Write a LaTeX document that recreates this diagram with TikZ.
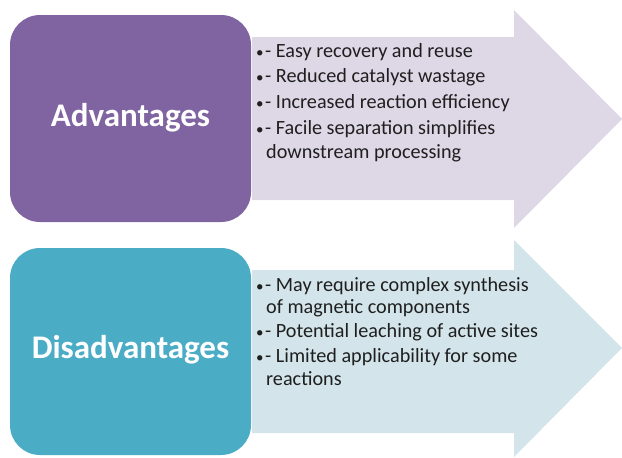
\documentclass[tikz,border=0pt]{standalone}
\usepackage{fontspec}
\setmainfont{Carlito}
\definecolor{advbox}{HTML}{8064A2}
\definecolor{advarrow}{HTML}{DDD7E6}
\definecolor{disbox}{HTML}{4BACC6}
\definecolor{disarrow}{HTML}{D3E5EB}
\newcommand{\itembullet}{{\fontsize{15}{15}\selectfont\textbullet}\hspace{1.5pt}}
\tikzset{
  titlebox/.style={rounded corners=30pt, draw=none},
  bigarrow/.style={draw=none},
  titletext/.style={text=white, font=\fontsize{33}{38}\selectfont\bfseries, inner sep=0pt},
  itemtext/.style={anchor=base west, inner sep=0pt, font=\fontsize{20.2}{24}\selectfont, text=black!88},
}
\begin{document}
\begin{tikzpicture}[x=1pt,y=-1pt]
\useasboundingbox (0,0) rectangle (622,458);
% top arrow
\fill[advarrow, bigarrow] (252,37) -- (514,37) -- (514,10) -- (622,119) -- (514,228) -- (514,200) -- (252,200) -- cycle;
\fill[advbox, titlebox] (10,15) rectangle (251,222);
\node[titletext] (adv) at (130.5,118) {Advantages};
\node[itemtext] (a1) at (256,57) {\itembullet- Easy recovery and reuse};
\node[itemtext] (a2) at (256,82) {\itembullet- Reduced catalyst wastage};
\node[itemtext] (a3) at (256,108) {\itembullet- Increased reaction efficiency};
\node[itemtext] (a4) at (256,134) {\itembullet- Facile separation simplifies};
\node[itemtext] (a5) at (266,158) {downstream processing};
% bottom arrow
\fill[disarrow, bigarrow] (252,270) -- (514,270) -- (514,240) -- (622,348) -- (514,457) -- (514,433) -- (252,433) -- cycle;
\fill[disbox, titlebox] (10,248) rectangle (251,455);
\node[titletext] (dis) at (130.5,350) {Disadvantages};
\node[itemtext] (d1) at (256,291) {\itembullet- May require complex synthesis};
\node[itemtext] (d2) at (266,313) {of magnetic components};
\node[itemtext] (d3) at (256,337) {\itembullet- Potential leaching of active sites};
\node[itemtext] (d4) at (256,362) {\itembullet- Limited applicability for some};
\node[itemtext] (d5) at (266,385) {reactions};
\end{tikzpicture}
\end{document}
